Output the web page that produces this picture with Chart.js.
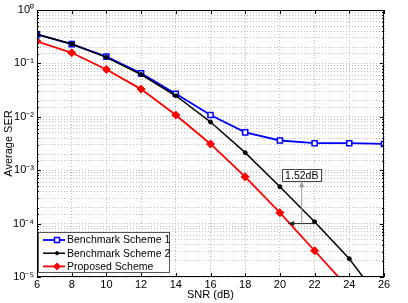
<!DOCTYPE html>
<html>
<head>
<meta charset="utf-8">
<script src="https://cdn.jsdelivr.net/npm/chart.js@4.4.1/dist/chart.umd.min.js"></script>
<style>
  html, body { margin: 0; padding: 0; background: #fff; }
  #c { display: block; }
</style>
</head>
<body>
<canvas id="c" width="408" height="303"></canvas>
<script>
// SNR points (dB)
var snr = [6, 8, 10, 12, 14, 16, 18, 20, 22, 24, 26];
// average SER
var bench1 = [0.35, 0.23, 0.134, 0.065, 0.027, 0.0108, 0.0051, 0.0036, 0.0032, 0.0032, 0.0031];
var bench2 = [0.35, 0.23, 0.13, 0.062, 0.0248, 0.008, 0.00213, 0.00049, 0.000108, 0.000022, 0.000003];
var proposed = [0.26, 0.158, 0.077, 0.033, 0.0108, 0.0031, 0.00075, 0.00016, 0.000031, 0.000006, 0.0000012];
var xTicks = [6, 8, 10, 12, 14, 16, 18, 20, 22, 24, 26];
var seriesNames = ['Benchmark Scheme 1', 'Benchmark Scheme 2', 'Proposed Scheme'];
var gapLabel = '1.52dB';

var FONT = '"Liberation Sans", Arial, Helvetica, sans-serif';

function pts(arr) {
  return snr.map(function (x, i) { return { x: x, y: arr[i] }; });
}

var sup = { '0': '\u2070', '1': '\u00b9', '2': '\u00b2', '3': '\u00b3', '4': '\u2074', '5': '\u2075', '-': '\u207b' };
function pow10Label(v) {
  var e = Math.log10(v);
  if (Math.abs(e - Math.round(e)) > 1e-6) return '';
  var s = String(Math.round(e)).split('').map(function (ch) { return sup[ch]; }).join('');
  return '10' + s;
}

function arrow(ctx, x1, y1, x2, y2, color) {
  ctx.strokeStyle = color;
  ctx.fillStyle = color;
  ctx.lineWidth = 1;
  ctx.beginPath();
  ctx.moveTo(x1, y1);
  ctx.lineTo(x2, y2);
  ctx.stroke();
  var a = Math.atan2(y2 - y1, x2 - x1), L = 6, W = 2.5;
  ctx.beginPath();
  ctx.moveTo(x2, y2);
  ctx.lineTo(x2 - L * Math.cos(a) + W * Math.sin(a), y2 - L * Math.sin(a) - W * Math.cos(a));
  ctx.lineTo(x2 - L * Math.cos(a) - W * Math.sin(a), y2 - L * Math.sin(a) + W * Math.cos(a));
  ctx.closePath();
  ctx.fill();
}

var extras = {
  id: 'extras',
  afterDraw: function (chart) {
    var ctx = chart.ctx, a = chart.chartArea;
    var xs = chart.scales.x, ys = chart.scales.y;
    ctx.save();

    // frame + inward ticks
    ctx.strokeStyle = '#000';
    ctx.lineWidth = 1;
    ctx.strokeRect(a.left + 0.5, a.top + 0.5, a.right - a.left - 1, a.bottom - a.top - 1);
    ctx.beginPath();
    xTicks.forEach(function (t) {
      var px = Math.round(xs.getPixelForValue(t)) + 0.5;
      ctx.moveTo(px, a.bottom); ctx.lineTo(px, a.bottom - 4);
      ctx.moveTo(px, a.top); ctx.lineTo(px, a.top + 4);
    });
    ys.ticks.forEach(function (t) {
      var py = Math.round(ys.getPixelForValue(t.value)) + 0.5;
      var len = t.label ? 4 : 2;
      ctx.moveTo(a.left, py); ctx.lineTo(a.left + len, py);
      ctx.moveTo(a.right, py); ctx.lineTo(a.right - len, py);
    });
    ctx.stroke();

    // 1.52 dB gap annotation
    var yRef = ys.getPixelForValue(1e-4);
    arrow(ctx, xs.getPixelForValue(22), yRef, xs.getPixelForValue(20.48), yRef, '#222');
    var bx = xs.getPixelForValue(21.26);
    var boxTop = ys.getPixelForValue(0.00105), boxBot = ys.getPixelForValue(0.00062);
    arrow(ctx, bx, yRef, bx, boxBot, '#999');
    ctx.font = '10.5px ' + FONT;
    var tw = ctx.measureText(gapLabel).width;
    var bl = bx - tw / 2 - 3, bw = tw + 6;
    ctx.fillStyle = '#fff';
    ctx.fillRect(bl, boxTop, bw, boxBot - boxTop);
    ctx.strokeStyle = '#444';
    ctx.strokeRect(Math.round(bl) + 0.5, Math.round(boxTop) + 0.5, Math.round(bw), Math.round(boxBot - boxTop));
    ctx.fillStyle = '#000';
    ctx.textAlign = 'center';
    ctx.textBaseline = 'middle';
    ctx.fillText(gapLabel, bx, (boxTop + boxBot) / 2 + 1);

    // legend (lower left, inside the axes)
    var lx = a.left + 1, ly = a.bottom - 45, lw = 131, lh = 40;
    ctx.fillStyle = '#fff';
    ctx.fillRect(lx, ly, lw, lh);
    ctx.strokeStyle = '#555';
    ctx.lineWidth = 1;
    ctx.strokeRect(lx + 0.5, ly + 0.5, lw, lh);
    var order = [1, 0, 2];
    seriesNames.forEach(function (name, i) {
      var ds = chart.data.datasets[order[i]];
      var ry = ly + 8 + i * 13.2;
      ctx.strokeStyle = ds.borderColor;
      ctx.lineWidth = ds.borderWidth;
      ctx.beginPath();
      ctx.moveTo(lx + 5, ry); ctx.lineTo(lx + 27, ry);
      ctx.stroke();
      var mx = lx + 19;
      ctx.fillStyle = ds.pointBackgroundColor;
      ctx.strokeStyle = ds.pointBorderColor;
      ctx.lineWidth = ds.pointBorderWidth;
      ctx.beginPath();
      if (ds.pointStyle === 'rect') {
        ctx.rect(mx - 2.5, ry - 2.5, 5, 5);
      } else if (ds.pointStyle === 'rectRot') {
        ctx.moveTo(mx, ry - 3.5); ctx.lineTo(mx + 3.5, ry); ctx.lineTo(mx, ry + 3.5); ctx.lineTo(mx - 3.5, ry); ctx.closePath();
      } else {
        ctx.arc(mx, ry, 1.6, 0, Math.PI * 2);
      }
      ctx.fill();
      ctx.stroke();
      ctx.fillStyle = '#000';
      ctx.textAlign = 'left';
      ctx.textBaseline = 'middle';
      ctx.font = '10.5px ' + FONT;
      ctx.fillText(name, lx + 29, ry + 0.5);
    });
    ctx.restore();
  }
};

new Chart(document.getElementById('c'), {
  type: 'line',
  data: {
    datasets: [
      {
        label: seriesNames[1], data: pts(bench2), order: 0,
        borderColor: '#000', borderWidth: 1.5,
        pointStyle: 'circle', pointRadius: 2, pointBackgroundColor: '#000', pointBorderColor: '#000', pointBorderWidth: 1
      },
      {
        label: seriesNames[0], data: pts(bench1), order: 1,
        borderColor: '#0000ff', borderWidth: 1.8,
        pointStyle: 'rect', pointRadius: 3.6, pointBackgroundColor: '#ffffff', pointBorderColor: '#0000ff', pointBorderWidth: 1.5
      },
      {
        label: seriesNames[2], data: pts(proposed), order: 2,
        borderColor: '#ff0000', borderWidth: 1.8,
        pointStyle: 'rectRot', pointRadius: 4, pointBackgroundColor: '#ff0000', pointBorderColor: '#ff0000', pointBorderWidth: 1
      }
    ]
  },
  options: {
    responsive: false,
    animation: false,
    events: [],
    layout: { padding: { top: 10, right: 24, left: 0, bottom: 0 } },
    plugins: { legend: { display: false }, tooltip: { enabled: false } },
    scales: {
      x: {
        type: 'linear', min: 6, max: 26,
        afterBuildTicks: function (s) { s.ticks = xTicks.map(function (v) { return { value: v }; }); },
        afterFit: function (s) { s.height = 26; },
        grid: { color: '#bdbdbd', lineWidth: 1, drawTicks: false },
        border: { display: false, dash: [1, 2] },
        ticks: { color: '#000', padding: 1, font: { family: FONT, size: 11 }, maxRotation: 0 },
        title: { display: true, text: 'SNR (dB)', color: '#000', font: { family: FONT, size: 11 }, padding: { top: 0, bottom: 1 } }
      },
      y: {
        type: 'logarithmic', min: 1e-5, max: 1,
        afterFit: function (s) { s.width = 37; },
        grid: { color: '#bdbdbd', lineWidth: 1, drawTicks: false },
        border: { display: false, dash: [1, 2] },
        ticks: { color: '#000', padding: 3, autoSkip: false, font: { family: FONT, size: 11 }, callback: function (v) { return pow10Label(v); } },
        title: { display: true, text: 'Average SER', color: '#000', font: { family: FONT, size: 11 }, padding: { top: 2, bottom: 0 } }
      }
    }
  },
  plugins: [extras]
});
</script>
</body>
</html>
